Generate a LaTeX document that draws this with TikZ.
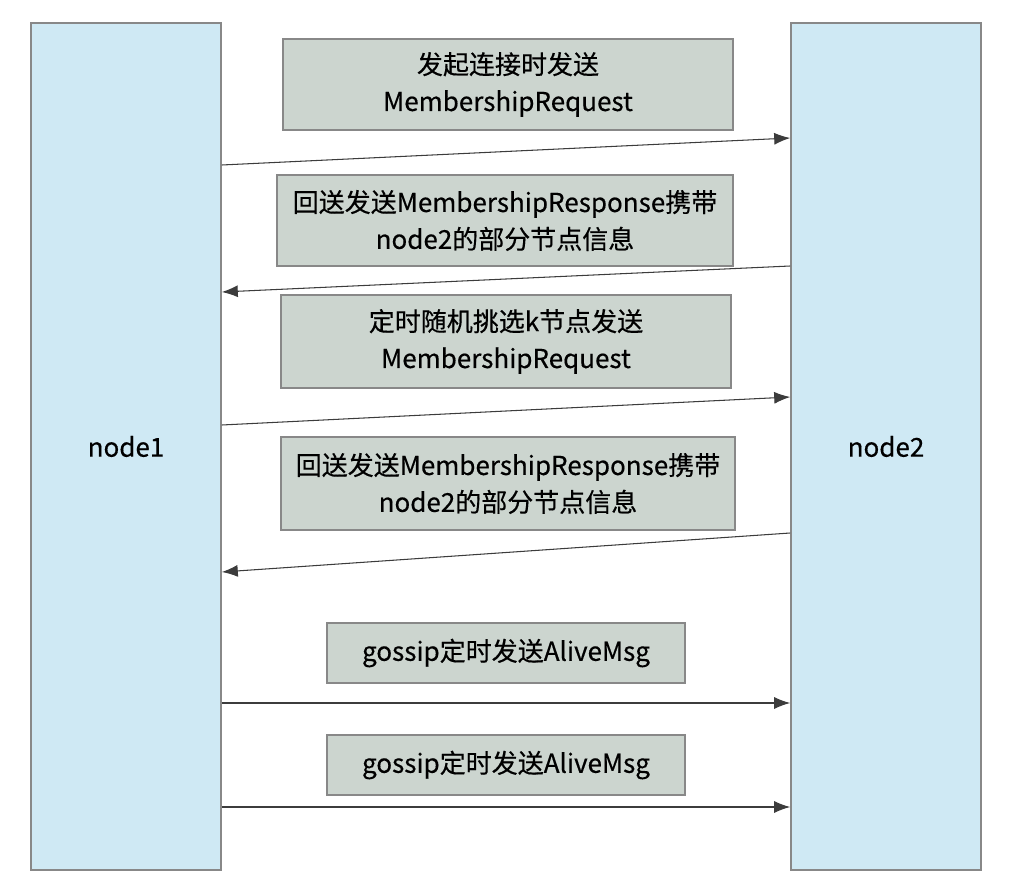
\documentclass[tikz,border=0pt]{standalone}
\usepackage{fontspec}
\setmainfont[FakeBold=0.4]{Noto Sans CJK SC}
\usepackage{tikz}
\usetikzlibrary{arrows.meta,calc,positioning}
\definecolor{lifeblue}{RGB}{207,233,244}
\definecolor{msggray}{RGB}{204,213,207}
\definecolor{edgegray}{RGB}{136,136,136}
\definecolor{arrowgray}{RGB}{60,60,60}

\begin{document}
\begin{tikzpicture}[
    lifeline/.style={draw=edgegray, line width=0.9pt, fill=lifeblue, minimum width=3.8cm, minimum height=16.94cm, inner sep=0pt, font=\fontsize{14.8}{21}\selectfont},
    msgbox/.style={draw=edgegray, line width=0.8pt, fill=msggray, inner sep=0pt, align=center, font=\fontsize{14.8}{21}\selectfont},
    msg/.style={draw=arrowgray, line width=0.6pt, -{Latex[length=3.2mm,width=2.4mm]}}
  ]
        \useasboundingbox (0,0) rectangle (20.28,-17.84);
        \node[lifeline] (node1) at (2.52,-8.93) {node1};
        \node[lifeline] (node2) at (17.72,-8.93) {node2};

        \node[msgbox, minimum width=9.0cm, minimum height=1.82cm] (req1) at (10.16,-1.69) {发起连接时发送\\MembershipRequest};
        \node[msgbox, minimum width=9.12cm, minimum height=1.82cm] (resp1) at (10.10,-4.41) {回送发送MembershipResponse携带\\node2的部分节点信息};
        \node[msgbox, minimum width=9.0cm, minimum height=1.86cm] (req2) at (10.12,-6.83) {定时随机挑选k节点发送\\MembershipRequest};
        \node[msgbox, minimum width=9.08cm, minimum height=1.86cm] (resp2) at (10.16,-9.67) {回送发送MembershipResponse携带\\node2的部分节点信息};
        \node[msgbox, minimum width=7.16cm, minimum height=1.2cm] (alive1) at (10.12,-13.06) {gossip定时发送AliveMsg};
        \node[msgbox, minimum width=7.16cm, minimum height=1.2cm] (alive2) at (10.12,-15.30) {gossip定时发送AliveMsg};

        \coordinate (req1s) at (node1.east |- 0,-3.30);
        \coordinate (req1e) at (node2.west |- 0,-2.76);
        \coordinate (resp1s) at (node2.west |- 0,-5.32);
        \coordinate (resp1e) at (node1.east |- 0,-5.84);
        \coordinate (req2s) at (node1.east |- 0,-8.50);
        \coordinate (req2e) at (node2.west |- 0,-7.94);
        \coordinate (resp2s) at (node2.west |- 0,-10.66);
        \coordinate (resp2e) at (node1.east |- 0,-11.44);
        \coordinate (alive1s) at (node1.east |- 0,-14.06);
        \coordinate (alive1e) at (node2.west |- 0,-14.06);
        \coordinate (alive2s) at (node1.east |- 0,-16.14);
        \coordinate (alive2e) at (node2.west |- 0,-16.14);

        \draw[msg] (req1s) -- (req1e);
        \draw[msg] (resp1s) -- (resp1e);
        \draw[msg] (req2s) -- (req2e);
        \draw[msg] (resp2s) -- (resp2e);
        \draw[msg] (alive1s) -- (alive1e);
        \draw[msg] (alive2s) -- (alive2e);
      \end{tikzpicture}
\end{document}
